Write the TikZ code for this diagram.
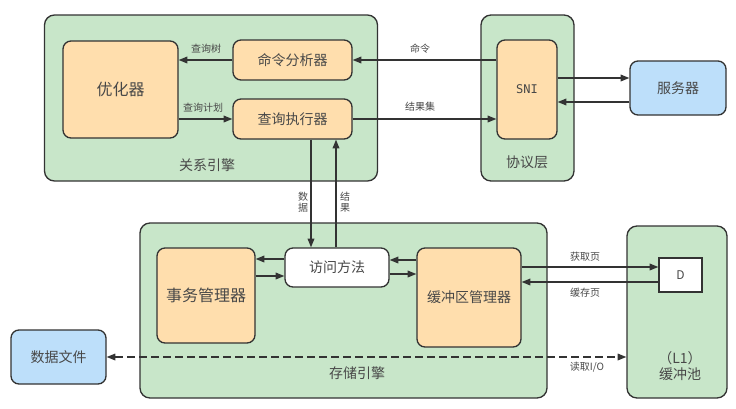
\documentclass[tikz,border=0pt]{standalone}
\usepackage{fontspec}
\setmainfont{Noto Sans CJK SC}
\newfontfamily\monofont{DejaVu Sans Mono}
\usetikzlibrary{arrows.meta}
\definecolor{engineArea}{RGB}{200,230,201}
\definecolor{partArea}{RGB}{255,222,173}
\definecolor{outerArea}{RGB}{189,223,250}
\definecolor{lineGray}{RGB}{51,51,51}
\definecolor{textGray}{RGB}{72,72,72}
\tikzset{
    every picture/.style={
        line width=0.9pt
    },
    % Style for the big engine boxes
    engine box/.style={
        draw=lineGray, fill=engineArea, rounded corners=7.5pt, line width=1pt
    },
    % Style for the boxes inside an engine
    part box/.style={
        draw=lineGray, fill=partArea, rounded corners=6pt, line width=1pt,
        text=textGray, font=\fontsize{10.5}{12}\selectfont, align=center
    },
    outer box/.style={
        part box, fill=outerArea
    },
    area label/.style={
        text=textGray, font=\fontsize{10.5}{12}\selectfont, align=center
    },
    flow label/.style={
        text=textGray, font=\fontsize{7.5}{8}\selectfont, align=center
    },
    flow/.style={
        draw=lineGray, -{Triangle[length=6.5pt,width=5pt]}
    }
}

\begin{document}
\begin{tikzpicture}[x=0.75pt,y=-0.75pt]

% Set the canvas size
\path[use as bounding box] (0,0) rectangle (736,408);

% Engines and layers
\node[engine box, minimum width=249.75pt, minimum height=124.5pt] (relEngine) at (211,98) {};
\node[area label] (relLabel) at (207,165) {关系引擎};

\node[engine box, minimum width=69.75pt, minimum height=124.5pt] (protoLayer) at (527.5,98) {};
\node[area label] (protoLabel) at (527,162) {协议层};

\node[engine box, minimum width=305.25pt, minimum height=131.25pt] (storeEngine) at (343.5,310.5) {};
\node[area label] (storeLabel) at (357,373) {存储引擎};

\node[engine box, minimum width=75pt, minimum height=129pt] (bufPool) at (677,312) {};
\node[area label] (poolLabel) at (680,366) {（L1）\\缓冲池};

% Parts
\node[part box, minimum width=86.25pt, minimum height=72.75pt, font=\fontsize{12}{14}\selectfont] (optimizer) at (120.5,89.5) {优化器};
\node[part box, minimum width=89.25pt, minimum height=30pt] (cmdParser) at (292.5,60) {命令分析器};
\node[part box, minimum width=89.25pt, minimum height=30pt] (queryExec) at (292.5,119) {查询执行器};
\node[part box, minimum width=45pt, minimum height=74.25pt, font=\monofont\fontsize{9}{10}\selectfont] (sni) at (527,89.5) {SNI};
\node[outer box, minimum width=72pt, minimum height=40.5pt] (server) at (678,88) {服务器};

\node[part box, minimum width=73.5pt, minimum height=71.25pt, font=\fontsize{12}{14}\selectfont] (txnMgr) at (206,295.5) {事务管理器};
\node[part box, fill=white, minimum width=78pt, minimum height=29.25pt] (access) at (337,267.5) {访问方法};
\node[part box, minimum width=78pt, minimum height=74.25pt] (bufMgr) at (469,297.5) {缓冲区管理器};
\node[draw=lineGray, fill=white, text=textGray, line width=1pt, minimum width=32.25pt, minimum height=25.5pt, font=\fontsize{9}{10}\selectfont] (page) at (680.5,275) {D};
\node[outer box, minimum width=71.25pt, minimum height=40.5pt] (dataFile) at (58.5,357) {数据文件};

% Relational engine flows
\draw[flow] (cmdParser.west) -- (optimizer.east |- cmdParser.west);
\node[flow label] (treeLabel) at (206,49) {查询树};
\draw[flow] (optimizer.east |- queryExec.west) -- (queryExec.west);
\node[flow label] (planLabel) at (203,108) {查询计划};

% Protocol layer flows
\draw[flow] (sni.west |- cmdParser.east) -- (cmdParser.east);
\node[flow label] (cmdLabel) at (420,49) {命令};
\draw[flow] (queryExec.east) -- (sni.west |- queryExec.east);
\node[flow label] (resultSetLabel) at (420,107) {结果集};
\draw[flow] (sni.east |- 0,78) -- (server.west |- 0,78);
\draw[flow] (server.west |- 0,102) -- (sni.east |- 0,102);

% Between the engines
\draw[flow] (queryExec.south -| 311,0) -- (access.north -| 311,0);
\node[flow label] (dataLabel) at (303,202) {数\\据};
\draw[flow] (access.north -| 336,0) -- (queryExec.south -| 336,0);
\node[flow label] (resultLabel) at (345,202) {结\\果};

% Storage engine flows
\draw[flow] (access.west |- 0,259) -- (txnMgr.east |- 0,259);
\draw[flow] (txnMgr.east |- 0,276) -- (access.west |- 0,276);
\draw[flow] (bufMgr.west |- 0,260) -- (access.east |- 0,260);
\draw[flow] (access.east |- 0,274) -- (bufMgr.west |- 0,274);

% Buffer pool flows
\draw[flow] (bufMgr.east |- 0,267) -- (page.west |- 0,267);
\node[flow label] (fetchLabel) at (585,257) {获取页};
\draw[flow] (page.west |- 0,282) -- (bufMgr.east |- 0,282);
\node[flow label] (cacheLabel) at (585,293) {缓存页};
\draw[flow, dashed, dash pattern=on 6pt off 3pt, {Triangle[length=6.5pt,width=5pt]}-{Triangle[length=6.5pt,width=5pt]}] (dataFile.east) -- (bufPool.west |- dataFile.east);
\node[flow label] (readLabel) at (587,367) {读取I/O};

\end{tikzpicture}
\end{document}
